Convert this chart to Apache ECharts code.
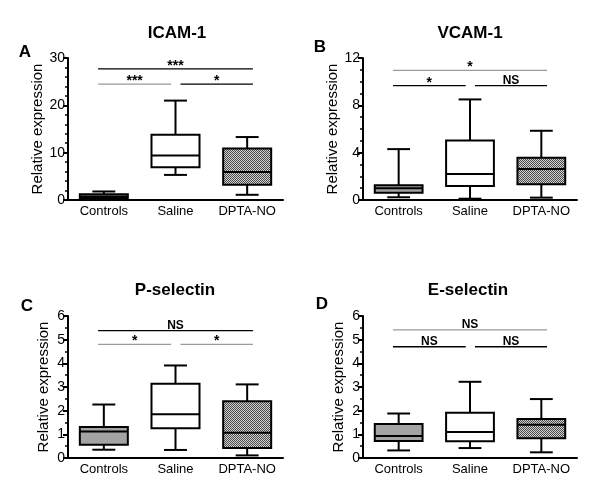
<!DOCTYPE html>
<html>
<head>
<meta charset="utf-8">
<script src="https://cdn.jsdelivr.net/npm/echarts@6/dist/echarts.min.js"></script>
<style>
html,body{margin:0;padding:0;background:#fff;}
#chart{width:600px;height:499px;}
</style>
</head>
<body>
<div id="chart"></div>
<script>
// ---------------- DATA ----------------
const categories = ['Controls', 'Saline', 'DPTA-NO'];

const panelTitles = ['ICAM-1', 'VCAM-1', 'P-selectin', 'E-selectin'];
const panelLetters = ['A', 'B', 'C', 'D'];
const yAxisName = 'Relative expression';

// box values: [min, Q1, median, Q3, max] per category
const icamControls = [0.15, 0.4, 0.75, 1.2, 1.8];
const icamSaline   = [5.3, 6.9, 9.4, 13.8, 21.0];
const icamDpta     = [1.1, 3.2, 5.9, 10.9, 13.3];

const vcamControls = [0.23, 0.62, 0.99, 1.24, 4.3];
const vcamSaline   = [0.11, 1.19, 2.2, 5.03, 8.5];
const vcamDpta     = [0.2, 1.33, 2.63, 3.56, 5.85];

const pselControls = [0.35, 0.56, 1.12, 1.31, 2.26];
const pselSaline   = [0.34, 1.26, 1.85, 3.14, 3.91];
const pselDpta     = [0.11, 0.42, 1.07, 2.4, 3.11];

const eselControls = [0.32, 0.72, 0.93, 1.44, 1.88];
const eselSaline   = [0.42, 0.71, 1.1, 1.91, 3.22];
const eselDpta     = [0.24, 0.83, 1.41, 1.65, 2.49];

// y axis ranges / tick steps
const yMax      = [30, 12, 6, 6];
const yInterval = [10, 4, 1, 1];

// significance comparisons: [groupA, groupB, bracket height (axis units)]
const icamComparisons = [[0, 2, 27.7], [0, 1, 24.5], [1, 2, 24.5]];
const icamSigLabels   = ['***', '***', '*'];
const vcamComparisons = [[0, 2, 10.95], [0, 1, 9.66], [1, 2, 9.66]];
const vcamSigLabels   = ['*', '*', 'NS'];
const pselComparisons = [[0, 2, 5.38], [0, 1, 4.8], [1, 2, 4.8]];
const pselSigLabels   = ['NS', '*', '*'];
const eselComparisons = [[0, 2, 5.41], [0, 1, 4.7], [1, 2, 4.7]];
const eselSigLabels   = ['NS', 'NS', 'NS'];

// ---------------- STYLE / LAYOUT ----------------
const FONT = '"Liberation Sans", Arial, Helvetica, sans-serif';
const grids = [
  {left: 68, top: 58, width: 215, height: 142},
  {left: 363, top: 58, width: 214, height: 142},
  {left: 68, top: 316, width: 215, height: 142},
  {left: 363, top: 316, width: 214, height: 142}
];
const minorSplit = [5, 4, 2, 2];
const titlePos = [[177, 33], [470, 33], [175, 290], [468, 290]];
const letterPos = [[25, 52], [320, 47], [27, 306], [322, 304]];
// which bracket lines are drawn in grey (per panel, per comparison)
const bracketGrey = [[false, true, false], [true, false, false], [false, true, true], [true, false, false]];

// checker pattern for DPTA-NO boxes
function makePattern() {
  const c = document.createElement('canvas');
  c.width = 2; c.height = 2;
  const ctx = c.getContext('2d');
  ctx.fillStyle = '#d2d2d2'; ctx.fillRect(0, 0, 2, 2);
  ctx.fillStyle = '#4a4a4a'; ctx.fillRect(0, 0, 1, 1); ctx.fillRect(1, 1, 1, 1);
  return {image: c, repeat: 'repeat'};
}
const boxFills = ['#a3a3a3', '#ffffff', makePattern()];

const panels = [
  {boxes: [icamControls, icamSaline, icamDpta], comps: icamComparisons, labels: icamSigLabels},
  {boxes: [vcamControls, vcamSaline, vcamDpta], comps: vcamComparisons, labels: vcamSigLabels},
  {boxes: [pselControls, pselSaline, pselDpta], comps: pselComparisons, labels: pselSigLabels},
  {boxes: [eselControls, eselSaline, eselDpta], comps: eselComparisons, labels: eselSigLabels}
];

const chart = echarts.init(document.getElementById('chart'), null, {renderer: 'canvas'});

const xAxes = [], yAxes = [], series = [], graphics = [];

panels.forEach((p, k) => {
  xAxes.push({
    type: 'category', gridIndex: k, data: categories, boundaryGap: true,
    axisLine: {lineStyle: {color: '#000', width: 2}},
    axisTick: {alignWithLabel: true, length: 4, lineStyle: {color: '#000', width: 2}},
    axisLabel: {color: '#000', fontSize: 13, fontFamily: FONT, margin: 5, interval: 0},
    splitLine: {show: false}
  });
  yAxes.push({
    type: 'value', gridIndex: k, min: 0, max: yMax[k], interval: yInterval[k],
    name: yAxisName, nameLocation: 'middle', nameGap: 17,
    nameTextStyle: {color: '#000', fontSize: 15, fontFamily: FONT},
    axisLine: {show: true, lineStyle: {color: '#000', width: 2}},
    axisTick: {show: true, length: 5, lineStyle: {color: '#000', width: 2}},
    minorTick: {show: true, splitNumber: minorSplit[k], length: 3, lineStyle: {color: '#000', width: 1.5}},
    axisLabel: {color: '#000', fontSize: 14, fontFamily: FONT, margin: 3},
    splitLine: {show: false}
  });

  // box plots
  const boxData = p.boxes.map((b, i) => [i].concat(b));
  series.push({
    type: 'custom', xAxisIndex: k, yAxisIndex: k, data: boxData, silent: true,
    renderItem: function (params, api) {
      const i = api.value(0);
      const mn = api.value(1), q1 = api.value(2), md = api.value(3), q3 = api.value(4), mx = api.value(5);
      const bw = api.size([1, 0])[0];
      const half = bw * 0.335, cap = bw * 0.16;
      const x = api.coord([i, 0])[0];
      const y = v => api.coord([i, v])[1];
      const ls = {stroke: '#000', lineWidth: 2};
      return {
        type: 'group',
        children: [
          {type: 'line', shape: {x1: x, y1: y(q3), x2: x, y2: y(mx)}, style: ls},
          {type: 'line', shape: {x1: x, y1: y(q1), x2: x, y2: y(mn)}, style: ls},
          {type: 'line', shape: {x1: x - cap, y1: y(mx), x2: x + cap, y2: y(mx)}, style: ls},
          {type: 'line', shape: {x1: x - cap, y1: y(mn), x2: x + cap, y2: y(mn)}, style: ls},
          {type: 'rect', shape: {x: x - half, y: y(q3), width: 2 * half, height: y(q1) - y(q3)},
            style: {fill: boxFills[i], stroke: '#000', lineWidth: 2}},
          {type: 'line', shape: {x1: x - half, y1: y(md), x2: x + half, y2: y(md)}, style: ls}
        ]
      };
    }
  });

  // significance brackets
  series.push({
    type: 'custom', xAxisIndex: k, yAxisIndex: k, data: p.comps, silent: true, z: 5,
    renderItem: function (params, api) {
      const a = api.value(0), b = api.value(1), h = api.value(2);
      const idx = params.dataIndex;
      const bw = api.size([1, 0])[0];
      const p0 = api.coord([0, h]);
      const fa = a === 0 ? a - 0.08 : a + 0.07;
      const fb = b === 2 ? b + 0.08 : b - 0.06;
      const x1 = p0[0] + fa * bw, x2 = p0[0] + fb * bw;
      const yy = p0[1];
      const col = bracketGrey[k][idx] ? '#9a9a9a' : '#000';
      const lbl = p.labels[idx];
      const isStar = lbl.indexOf('*') >= 0;
      return {
        type: 'group',
        children: [
          {type: 'line', shape: {x1: x1, y1: yy, x2: x2, y2: yy}, style: {stroke: col, lineWidth: 1.3}},
          {type: 'text', x: (x1 + x2) / 2, y: isStar ? yy + 4 : yy + 1,
            style: {text: lbl, fill: '#000', align: 'center', verticalAlign: 'bottom',
              font: 'bold ' + (isStar ? 14 : 12) + 'px ' + FONT}}
        ]
      };
    }
  });

  graphics.push({type: 'text', x: titlePos[k][0], y: titlePos[k][1],
    style: {text: panelTitles[k], fill: '#000', align: 'center', verticalAlign: 'middle', font: 'bold 17px ' + FONT}});
  graphics.push({type: 'text', x: letterPos[k][0], y: letterPos[k][1],
    style: {text: panelLetters[k], fill: '#000', align: 'center', verticalAlign: 'middle', font: 'bold 17px ' + FONT}});
});

chart.setOption({
  animation: false,
  backgroundColor: '#fff',
  grid: grids.map(g => Object.assign({containLabel: false}, g)),
  xAxis: xAxes,
  yAxis: yAxes,
  series: series,
  graphic: graphics
});
</script>
</body>
</html>
